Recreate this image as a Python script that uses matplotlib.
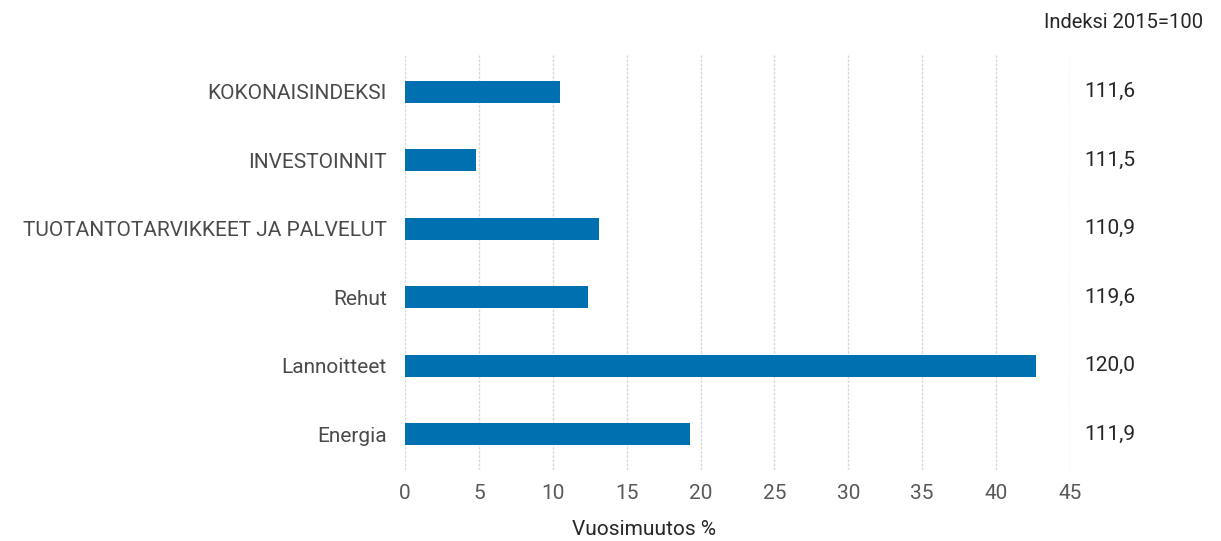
import matplotlib
matplotlib.use("Agg")
import matplotlib.pyplot as plt
import matplotlib.transforms as mtransforms

plt.rcParams['font.family'] = ['Roboto', 'DejaVu Sans']

# data
categories = ["KOKONAISINDEKSI", "INVESTOINNIT", "TUOTANTOTARVIKKEET JA PALVELUT",
              "Rehut", "Lannoitteet", "Energia"]
change_pct = [10.5, 4.8, 13.1, 12.4, 42.7, 19.3]
index_values = ["111,6", "111,5", "110,9", "119,6", "120,0", "111,9"]

bar_color = "#0070b0"
text_color = "#595959"

fig = plt.figure(figsize=(12.21, 5.41), dpi=100)
ax = fig.add_axes([0.3317, 0.131, 0.5446, 0.767])

ypos = list(range(len(categories)))
ax.barh(ypos, change_pct, height=0.32, color=bar_color, zorder=3)

ax.set_xlim(0, 45)
ax.set_ylim(5.52, -0.53)
ax.set_xticks(range(0, 46, 5))
ax.set_yticks(ypos)
ax.set_yticklabels(categories)

ax.grid(axis='x', color='#d9d9d9', linewidth=1, linestyle=(0, (2, 1)), zorder=0)
for s in ax.spines.values():
    s.set_visible(False)
ax.tick_params(axis='both', length=0, labelsize=15, colors=text_color)
ax.tick_params(axis='y', pad=13, labelcolor='#4a4a4a')
ax.tick_params(axis='x', pad=10)
ax.set_xlabel("Vuosimuutos %", fontsize=15, color='#262626', labelpad=8)
ax.xaxis.set_label_coords(0.36, -0.12)

trans = mtransforms.blended_transform_factory(ax.transAxes, ax.transData)
for y, v in zip(ypos, index_values):
    ax.text(1.021, y, v, transform=trans, ha='left', va='center', fontsize=15, color='#262626')

fig.text(0.985, 0.958, "Indeksi 2015=100", ha='right', va='center', fontsize=14.5, color='#262626')

fig.savefig("out.png", dpi=100)
